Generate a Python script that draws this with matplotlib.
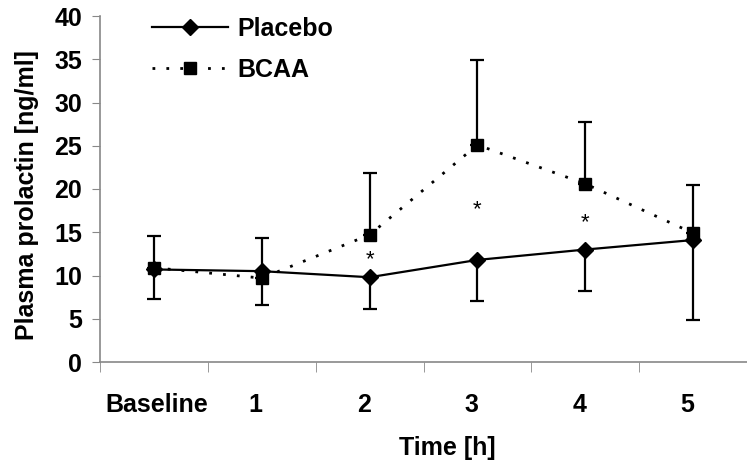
import numpy as np
import matplotlib.pyplot as plt
import matplotlib.transforms as mtransforms

plt.rcParams['font.family'] = ['Liberation Sans', 'DejaVu Sans']

times = ['Baseline', '1', '2', '3', '4', '5']
placebo = [10.7, 10.5, 9.8, 11.8, 13.0, 14.1]
bcaa = [10.9, 9.7, 14.7, 25.1, 20.6, 14.9]
placebo_low = [7.3, 6.6, 6.1, 7.1, 8.2, 4.8]   # lower end of placebo error bars
bcaa_high = [14.6, 14.3, 21.8, 34.9, 27.7, 20.5]  # upper end of BCAA error bars
star_x = [2, 3, 4]
star_y = [11.8, 17.6, 16.1]

x = np.arange(len(times))

fig = plt.figure(figsize=(7.47, 4.66), dpi=100)
ax = fig.add_axes([100/747, 104/466, 1 - 100/747, 346/466])

# error bars (one sided)
ax.errorbar(x, bcaa, yerr=[np.zeros(len(x)), np.array(bcaa_high) - np.array(bcaa)],
            fmt='none', ecolor='black', elinewidth=1.6, capsize=5, capthick=1.6, zorder=2)
ax.errorbar(x, placebo, yerr=[np.array(placebo) - np.array(placebo_low), np.zeros(len(x))],
            fmt='none', ecolor='black', elinewidth=1.6, capsize=5, capthick=1.6, zorder=2)

l1, = ax.plot(x, placebo, color='black', lw=1.6, marker='D', ms=8, zorder=3, label='Placebo')
l2, = ax.plot(x, bcaa, color='black', lw=2, ls=(0, (1, 4)), marker='s', ms=8, zorder=3, label='BCAA')

for sx, sy in zip(star_x, star_y):
    ax.text(sx, sy, '*', ha='center', va='center', fontsize=16)

ax.set_ylim(0, 40)
ax.set_yticks(range(0, 41, 5))
ax.set_xlim(-0.5, 5.5 - 7/109)
ax.set_xticks(x)
ax.set_xticklabels(times, fontsize=18, fontweight='bold')
ax.set_xticks(np.arange(-0.5, 5.6, 1), minor=True)
ax.tick_params(axis='x', which='major', length=0, pad=22)
ax.tick_params(axis='x', which='minor', length=7, color='#888888', direction='out')
ax.tick_params(axis='y', length=6, color='#888888', labelsize=18, pad=7)
for lab in ax.get_yticklabels():
    lab.set_fontweight('bold')
for i, lab in enumerate(ax.get_xticklabels()):
    dx = 3 if i == 0 else -6
    lab.set_transform(lab.get_transform() +
                      mtransforms.ScaledTranslation(dx/100, 0, fig.dpi_scale_trans))

for s in ['top', 'right']:
    ax.spines[s].set_visible(False)
for s in ['left', 'bottom']:
    ax.spines[s].set_color('#888888')
    ax.spines[s].set_linewidth(1.2)

ax.set_ylabel('Plasma prolactin [ng/ml]', fontsize=18, fontweight='bold')
ax.yaxis.set_label_coords(-0.094, 0.483)
ax.set_xlabel('Time [h]', fontsize=18, fontweight='bold')
ax.xaxis.set_label_coords((447-100)/647, -(436-362)/346)

ax.legend(handles=[l1, l2], loc='upper left', bbox_to_anchor=(52/647, 0.998), frameon=False,
          borderpad=0, borderaxespad=0,
          handlelength=3.05, handletextpad=0.36, labelspacing=0.7,
          prop={'size': 18, 'weight': 'bold'})

fig.savefig('out.png', dpi=100)
